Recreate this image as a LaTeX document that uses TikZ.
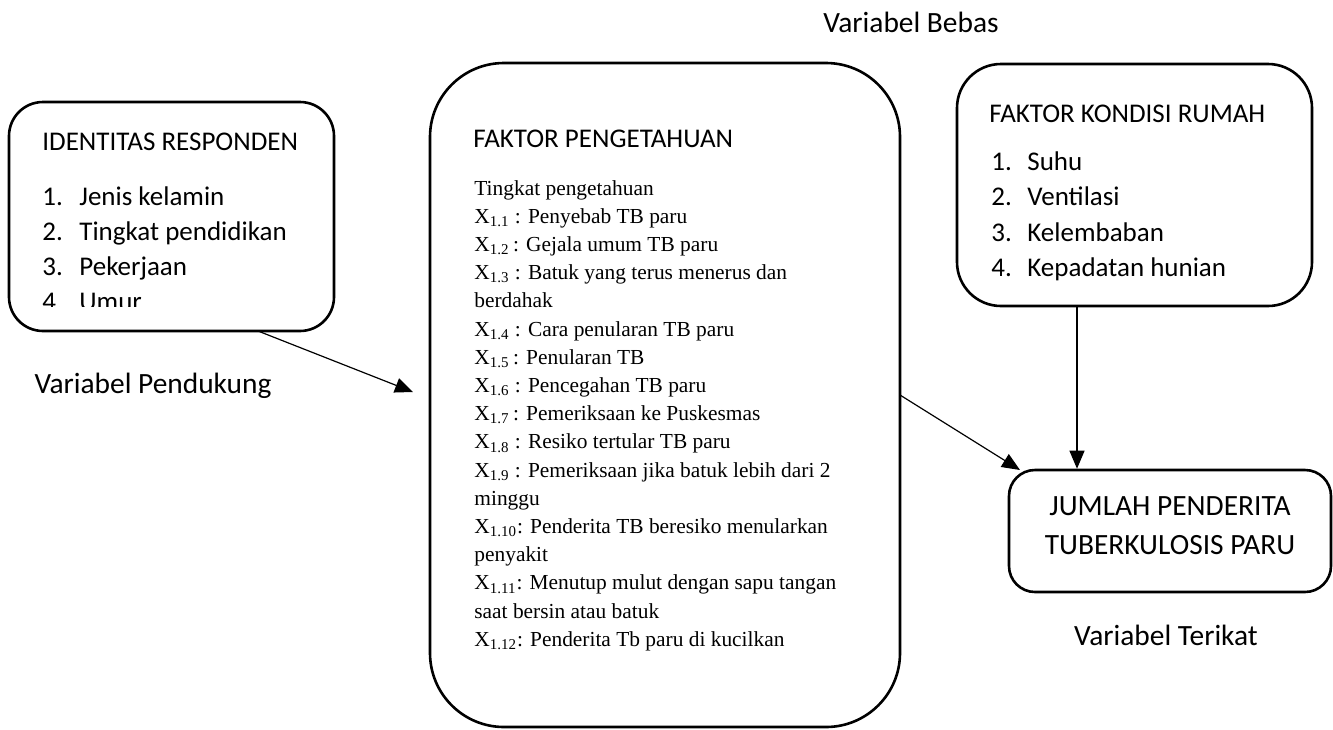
\documentclass[tikz,border=0pt]{standalone}
\usepackage{fontspec}
\setmainfont{Carlito}
\newfontfamily\timesfont{Liberation Serif}
\usetikzlibrary{arrows.meta,fit}

\begin{document}
\begin{tikzpicture}[x=0.5pt,y=-0.5pt,
  kotak/.style={draw,line width=1.3pt,inner sep=0pt},
  panah/.style={line width=0.6pt,-{Triangle[length=9pt,width=7.5pt]}},
  tulisan/.style={inner sep=0pt,font=\fontsize{13.5}{16}\selectfont},
  label/.style={inner sep=0pt,anchor=base,font=\fontsize{14.7}{17}\selectfont},
  judul/.style={tulisan,anchor=base west},
  butir/.style={anchor=base west,inner sep=0pt,font=\timesfont\fontsize{10.7}{13}\selectfont}]
  \useasboundingbox (0,0) rectangle (1333,729);

  \node[label] (bebas) at (911,32) {Variabel Bebas};

  % identitas responden
  \node[kotak,rounded corners=17pt,fit={(9,102) (334,331)}] (identitas) {};
  \begin{scope}
    \clip (0,90) rectangle (340,306);
    \node[judul] (identitas-judul) at (42,150) {IDENTITAS RESPONDEN};
    \foreach \teks [count=\i] in {Jenis kelamin,Tingkat pendidikan,Pekerjaan,Umur} {
      \node[judul] (identitas-no\i) at (42,169.7+35.3*\i) {\i.};
      \node[judul] (identitas-\i) at (79,169.7+35.3*\i) {\teks};
    }
  \end{scope}
  \node[label] (pendukung) at (153,393) {Variabel Pendukung};

  % faktor pengetahuan
  \node[kotak,rounded corners=37pt,fit={(430,63) (900,727)}] (pengetahuan) {};
  \node[judul] (pengetahuan-judul) at (473,147) {FAKTOR PENGETAHUAN};
  \foreach \teks [count=\i from 0] in {Tingkat pengetahuan,
      X\textsubscript{1.1} : Penyebab TB paru,
      X\textsubscript{1.2}\,: Gejala umum TB paru,
      X\textsubscript{1.3} : Batuk yang terus menerus dan,
      berdahak,
      X\textsubscript{1.4} : Cara penularan TB paru,
      X\textsubscript{1.5}\,: Penularan TB,
      X\textsubscript{1.6} : Pencegahan TB paru,
      X\textsubscript{1.7}\,: Pemeriksaan ke Puskesmas,
      X\textsubscript{1.8} : Resiko tertular TB paru,
      X\textsubscript{1.9} : Pemeriksaan jika batuk lebih dari 2,
      minggu,
      X\textsubscript{1.10}: Penderita TB beresiko menularkan,
      penyakit,
      X\textsubscript{1.11}: Menutup mulut dengan sapu tangan,
      saat bersin atau batuk,
      X\textsubscript{1.12}: Penderita Tb paru di kucilkan} {
    \node[butir] (pengetahuan-\i) at (474,195+28.2*\i) {\teks};
  }

  % kondisi rumah
  \node[kotak,rounded corners=22pt,fit={(957,64) (1312,306)}] (rumah) {};
  \node[judul] (rumah-judul) at (989,122) {FAKTOR KONDISI RUMAH};
  \foreach \teks [count=\i] in {Suhu,Ventilasi,Kelembaban,Kepadatan hunian} {
    \node[judul] (rumah-no\i) at (991,134.5+35.5*\i) {\i.};
    \node[judul] (rumah-\i) at (1027,134.5+35.5*\i) {\teks};
  }

  % jumlah penderita
  \node[kotak,rounded corners=13pt,fit={(1009,470) (1331,592)}] (jumlah) {};
  \node[label] (jumlah-1) at (1170,515) {JUMLAH PENDERITA};
  \node[label] (jumlah-2) at (1170,554) {TUBERKULOSIS PARU};
  \node[label] (terikat) at (1166,645) {Variabel Terikat};

  \coordinate (identitas-keluar) at (258,331);
  \coordinate (pengetahuan-masuk) at (413,392);
  \coordinate (pengetahuan-keluar) at (900,395);
  \coordinate (jumlah-masuk) at (1020,470);
  \coordinate (rumah-keluar) at (1077,306);

  \draw[panah] (identitas-keluar) -- (pengetahuan-masuk);
  \draw[panah] (pengetahuan-keluar) -- (jumlah-masuk);
  \draw[panah] (rumah-keluar) -- (jumlah.north -| rumah-keluar);
\end{tikzpicture}
\end{document}
